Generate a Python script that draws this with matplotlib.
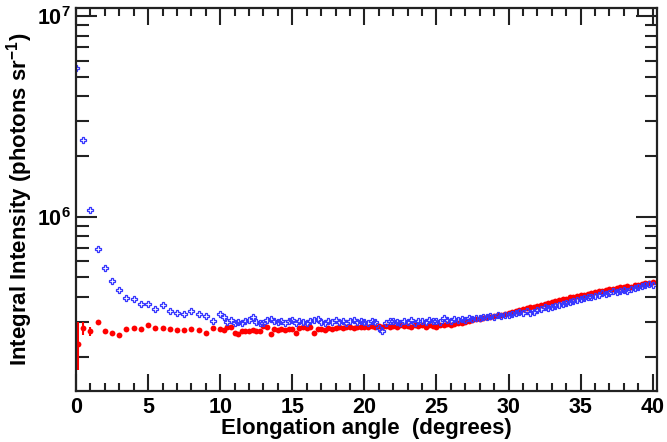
import numpy as np
import matplotlib
matplotlib.use('Agg')
import matplotlib.pyplot as plt
from matplotlib.ticker import LogLocator, MultipleLocator, LogFormatterSciNotation

plt.rcParams['font.family'] = ['Liberation Sans', 'DejaVu Sans']
plt.rcParams['font.weight'] = 'bold'
plt.rcParams['mathtext.fontset'] = 'custom'
plt.rcParams['mathtext.rm'] = 'Liberation Sans:bold'
plt.rcParams['mathtext.it'] = 'Liberation Sans:bold'
plt.rcParams['mathtext.bf'] = 'Liberation Sans:bold'

# Elongation grid: 0.5 deg steps below 10 deg, 0.25 deg steps from 10 to 40 deg
coarse_angle = np.arange(0.0, 10.0, 0.5)
fine_angle = np.arange(10.0, 40.001, 0.25)

blue_angle = np.concatenate([coarse_angle, fine_angle])
red_angle = blue_angle.copy()
red_angle[0] = 0.15

# log10 of integral intensity (photons sr^-1)
blue_log10 = [
    6.740, 6.385, 6.035, 5.838, 5.747, 5.678, 5.635, 5.593, 5.588, 5.565,
    5.563, 5.542, 5.558, 5.532, 5.522, 5.514, 5.532, 5.514, 5.507, 5.480,
    5.514, 5.500, 5.477, 5.485,  5.470, 5.477, 5.470, 5.480,
    5.485, 5.500, 5.477, 5.470,  5.472, 5.485, 5.490, 5.480,
    5.475, 5.482, 5.470, 5.478,  5.485, 5.472, 5.480, 5.475,
    5.470, 5.478, 5.485, 5.490,  5.476, 5.470, 5.482, 5.477,
    5.483, 5.475, 5.480, 5.472,  5.478, 5.485, 5.474, 5.480,
    5.476, 5.470, 5.482, 5.475,  5.445, 5.430, 5.468, 5.478,
    5.482, 5.474, 5.470, 5.480,  5.476, 5.484, 5.472, 5.478,
    5.480, 5.474, 5.485, 5.478,  5.482, 5.476, 5.495, 5.485,
    5.480, 5.488, 5.484, 5.492,  5.486, 5.494, 5.490, 5.496,
    5.493, 5.500, 5.498, 5.504,  5.502, 5.508, 5.505, 5.512,
    5.510, 5.516, 5.520, 5.524,  5.522, 5.530, 5.518, 5.525,
    5.536, 5.540, 5.548, 5.545,  5.552, 5.556, 5.560, 5.566,
    5.570, 5.575, 5.578, 5.585,  5.588, 5.594, 5.598, 5.602,
    5.606, 5.612, 5.618, 5.615,  5.622, 5.628, 5.625, 5.632,
    5.636, 5.630, 5.640, 5.645,  5.650, 5.656, 5.660, 5.664,
    5.662,
]

red_log10 = [
    5.365, 5.443, 5.430, 5.477, 5.432, 5.418, 5.410, 5.440, 5.443, 5.440,
    5.460, 5.447, 5.447, 5.438, 5.435, 5.435, 5.438, 5.435, 5.420, 5.443,
    5.440, 5.435, 5.448, 5.452,  5.418, 5.415, 5.430, 5.432,
    5.428, 5.435, 5.430, 5.432,  5.455, 5.452, 5.416, 5.438,
    5.436, 5.440, 5.434, 5.438,  5.440, 5.418, 5.445, 5.448,
    5.444, 5.450, 5.420, 5.438,  5.440, 5.436, 5.444, 5.440,
    5.446, 5.450, 5.444, 5.448,  5.450, 5.446, 5.452, 5.448,
    5.452, 5.448, 5.455, 5.450,  5.454, 5.448, 5.456, 5.452,
    5.455, 5.450, 5.458, 5.454,  5.456, 5.452, 5.460, 5.455,
    5.458, 5.452, 5.460, 5.456,  5.450, 5.458, 5.462, 5.465,
    5.460, 5.466, 5.470, 5.472,  5.476, 5.480, 5.484, 5.488,
    5.490, 5.494, 5.498, 5.502,  5.505, 5.508, 5.512, 5.516,
    5.518, 5.524, 5.530, 5.535,  5.540, 5.546, 5.550, 5.548,
    5.556, 5.562, 5.566, 5.570,  5.576, 5.580, 5.584, 5.588,
    5.592, 5.598, 5.602, 5.604,  5.608, 5.612, 5.616, 5.620,
    5.624, 5.628, 5.632, 5.634,  5.638, 5.640, 5.644, 5.648,
    5.650, 5.654, 5.652, 5.658,  5.662, 5.666, 5.668, 5.672,
    5.677,
]

# error bar ends (log10) for the first red points, others hidden under markers
red_err_low = [5.235, 5.410, 5.405]
red_err_high = [5.477, 5.477, 5.452]


def main():
    blue = 10 ** np.array(blue_log10)
    red = 10 ** np.array(red_log10)

    n_err = len(red_err_low)
    lo = red[:n_err] - 10 ** np.array(red_err_low)
    hi = 10 ** np.array(red_err_high) - red[:n_err]

    fig = plt.figure(figsize=(6.67, 4.42), dpi=100)
    ax = fig.add_axes([0.114, 0.115, 0.871, 0.867])

    ax.errorbar(red_angle[:n_err], red[:n_err], yerr=[lo, hi], fmt='none',
                ecolor='#ff0000', elinewidth=1.5, capsize=0)
    ax.plot(red_angle, red, 'o', color='#ff0000', markersize=4.2,
            markeredgewidth=0)
    ax.plot(blue_angle, blue, 'P', color='#3535ff', markersize=4.6,
            fillstyle='none', markeredgewidth=0.9)

    ax.set_yscale('log')
    ax.set_xlim(0, 40.3)
    ax.set_ylim(1.35e5, 1.1e7)

    ax.xaxis.set_major_locator(MultipleLocator(5))
    ax.xaxis.set_minor_locator(MultipleLocator(1))
    ax.yaxis.set_major_locator(LogLocator(base=10))
    ax.yaxis.set_minor_locator(LogLocator(base=10, subs=np.arange(2, 10)))
    ax.yaxis.set_major_formatter(LogFormatterSciNotation())

    ax.tick_params(which='both', direction='in', top=True, right=True,
                   width=1.5, color='#222222', labelsize=15.5)
    ax.tick_params(axis='x', which='major', length=12, pad=4)
    ax.tick_params(axis='x', which='minor', length=6)
    ax.tick_params(axis='y', which='major', length=15, pad=4)
    ax.tick_params(axis='y', which='minor', length=9)
    for lab in ax.get_xticklabels() + ax.get_yticklabels():
        lab.set_fontweight('bold')

    for sp in ax.spines.values():
        sp.set_linewidth(1.6)
        sp.set_color('#222222')

    ax.set_xlabel('Elongation angle  (degrees)', fontsize=16,
                  fontweight='bold', labelpad=0)
    ax.set_ylabel('Integral Intensity (photons sr$^{-1}$)', fontsize=16,
                  fontweight='bold', labelpad=1)

    fig.savefig('out.png', dpi=100)


if __name__ == "__main__":
    main()
